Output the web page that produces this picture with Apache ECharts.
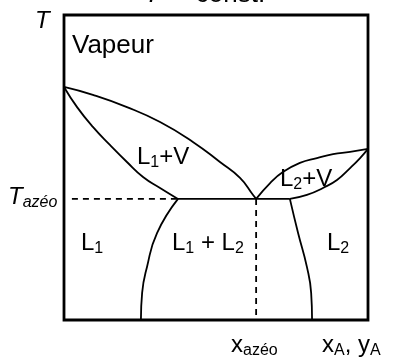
<!DOCTYPE html>
<html>
<head>
<meta charset="utf-8">
<script src="https://cdn.jsdelivr.net/npm/echarts@6/dist/echarts.min.js"></script>
<style>
  html, body { margin: 0; padding: 0; background: #fff; }
  #chart { width: 397px; height: 361px; }
</style>
</head>
<body>
<div id="chart"></div>
<script>
// Mole fraction of A (0..1) vs temperature (relative scale 0..100)
const leftVapour = [[0, 76.4], [0.095, 73.8], [0.207, 69.8], [0.316, 64.9], [0.424, 58.4], [0.513, 51.8], [0.579, 46.6], [0.622, 41.0], [0.632, 39.7]];
const leftLiquid = [[0, 76.4], [0.043, 69.8], [0.095, 63.3], [0.151, 57.4], [0.207, 51.8], [0.260, 46.9], [0.316, 43.3], [0.375, 39.7]];
const rightVapour = [[0.632, 39.7], [0.678, 44.9], [0.720, 48.5], [0.776, 51.5], [0.832, 53.1], [0.885, 54.4], [0.941, 55.1], [1, 56.1]];
const rightLiquid = [[0.743, 39.7], [0.799, 41.0], [0.852, 43.3], [0.898, 45.9], [0.941, 49.8], [0.974, 53.1], [1, 56.1]];
const leftSolubility = [[0.375, 39.7], [0.306, 28.5], [0.273, 17.4], [0.257, 8.9], [0.253, 0]];
const rightSolubility = [[0.743, 39.7], [0.770, 28.5], [0.799, 17.4], [0.813, 8.9], [0.816, 0]];
const threePhaseLine = [[0.375, 39.7], [0.743, 39.7]];
const azeoTempGuide = [[0.026, 39.7], [0.375, 39.7]];
const azeoCompGuide = [[0.632, 39.7], [0.632, 0]];

const FONT = '"Liberation Sans", Arial, sans-serif';
const main = (size, italic) => (italic ? 'italic ' : '') + size + 'px ' + FONT;

const chart = echarts.init(document.getElementById('chart'), null, { renderer: 'canvas' });

function curve(data, opts) {
  return Object.assign({
    type: 'line',
    data: data,
    smooth: true,
    showSymbol: false,
    silent: true,
    animation: false,
    lineStyle: { color: '#000', width: 1.8 }
  }, opts || {});
}

const richStyles = {
  n: { font: main(24), verticalAlign: 'middle' },
  s: { font: main(16), padding: [12, 0, 0, 0], verticalAlign: 'middle' },
  ni: { font: main(24, true), verticalAlign: 'middle' },
  si: { font: main(16, true), padding: [12, 0, 0, 0], verticalAlign: 'middle' }
};

function label(x, y, text) {
  return {
    type: 'text', x: x, y: y, silent: true,
    style: { text: text, font: main(24), fill: '#000', verticalAlign: 'top', rich: richStyles }
  };
}

const dashed = { color: '#000', width: 1.8, type: [6, 5] };

chart.setOption({
  animation: false,
  grid: { left: 64, top: 15, width: 304, height: 305, show: true, borderColor: '#000', borderWidth: 2.8, backgroundColor: 'transparent' },
  xAxis: { type: 'value', min: 0, max: 1, show: false },
  yAxis: { type: 'value', min: 0, max: 100, show: false },
  series: [
    curve(leftVapour),
    curve(leftLiquid),
    curve(rightVapour),
    curve(rightLiquid),
    curve(leftSolubility),
    curve(rightSolubility),
    curve(threePhaseLine, { smooth: false }),
    curve(azeoTempGuide, { smooth: false, lineStyle: dashed }),
    curve(azeoCompGuide, { smooth: false, lineStyle: dashed })
  ],
  graphic: [
    { type: 'text', x: 207, y: 8, silent: true, style: { text: '{ni|P} = const.', font: main(26), fill: '#000', align: 'center', verticalAlign: 'bottom', rich: { ni: { font: main(26, true) } } } },
    { type: 'text', x: 35, y: 9, silent: true, style: { text: 'T', font: main(24, true), fill: '#000', verticalAlign: 'top' } },
    { type: 'text', x: 72, y: 33, silent: true, style: { text: 'Vapeur', font: main(26), fill: '#000', verticalAlign: 'top' } },
    label(137, 143, '{n|L}{s|1}{n|+V}'),
    label(280, 165, '{n|L}{s|2}{n|+V}'),
    label(8, 183, '{ni|T}{si|azéo}'),
    label(81, 229, '{n|L}{s|1}'),
    label(172, 229, '{n|L}{s|1}{n| + L}{s|2}'),
    label(327, 229, '{n|L}{s|2}'),
    label(231, 331, '{n|x}{s|azéo}'),
    label(322, 331, '{n|x}{s|A}{n|, y}{s|A}')
  ]
});
</script>
</body>
</html>
